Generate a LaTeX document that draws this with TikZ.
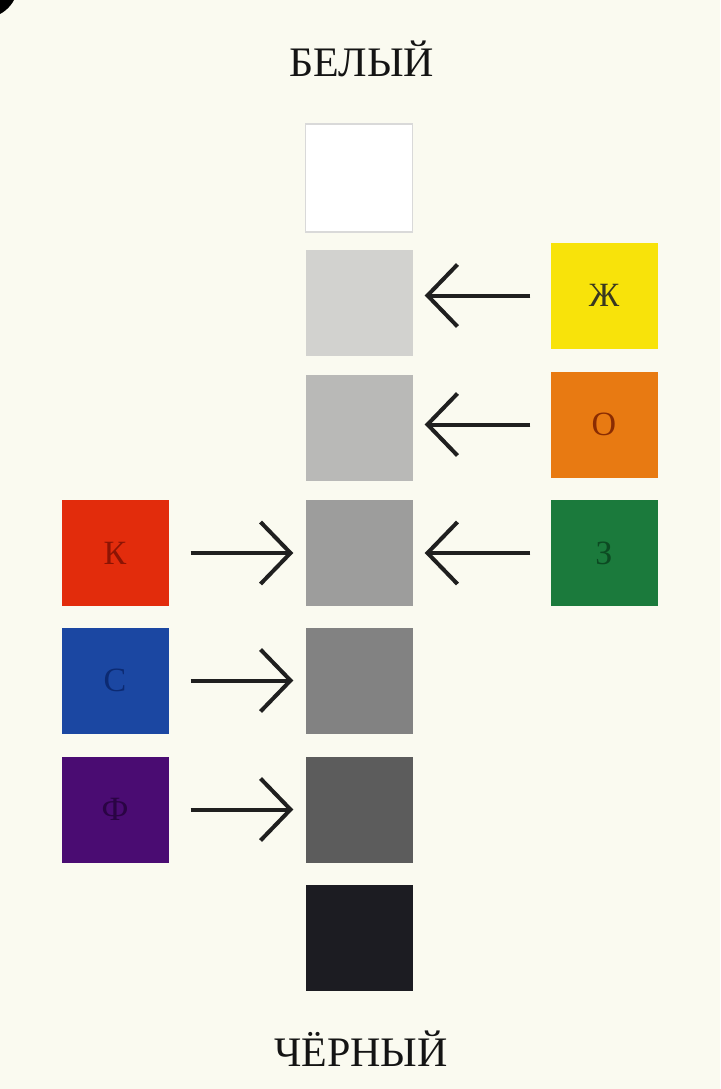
\documentclass[tikz,border=0pt]{standalone}
\usepackage{fontspec}
\setmainfont{Liberation Serif}
\usetikzlibrary{arrows.meta}
\definecolor{bg}{HTML}{FAFAF0}
\definecolor{gA}{HTML}{FFFFFF}
\definecolor{gB}{HTML}{D2D2CF}
\definecolor{gC}{HTML}{B9B9B7}
\definecolor{gD}{HTML}{9D9D9C}
\definecolor{gE}{HTML}{828282}
\definecolor{gF}{HTML}{5C5C5C}
\definecolor{gG}{HTML}{1C1C22}
\definecolor{cyel}{HTML}{F8E30A}
\definecolor{cora}{HTML}{E87A12}
\definecolor{cgrn}{HTML}{1B7A3C}
\definecolor{cred}{HTML}{E22C0C}
\definecolor{cblu}{HTML}{1B47A2}
\definecolor{cpur}{HTML}{4A0C72}
\definecolor{tyel}{HTML}{3A3820}
\definecolor{tora}{HTML}{8A2C02}
\definecolor{tgrn}{HTML}{0C4A22}
\definecolor{tred}{HTML}{8C1404}
\definecolor{tblu}{HTML}{0C2A72}
\definecolor{tpur}{HTML}{2A0444}
\tikzset{
  sq/.style={rectangle, minimum width=107pt, minimum height=106pt, inner sep=0pt, font=\fontsize{34}{34}\selectfont},
  title/.style={font=\fontsize{42}{42}\selectfont, text=black!92, anchor=base},
  arr/.style={line width=4pt, color=black!88, -{Straight Barb[length=30pt,width=62pt]}}
}
\begin{document}
\begin{tikzpicture}[x=1pt,y=-1pt]
\clip (0,0) rectangle (720,1089);
\fill[bg] (0,0) rectangle (720,1089);
\useasboundingbox (0,0) rectangle (720,1089);
\fill[black] (-16,-16) circle (34);
% titles
\node[title] (white) at (362,77) {БЕЛЫЙ};
\node[title] (black) at (361,1066) {ЧЁРНЫЙ};
% gray column
\node[sq, fill=gA, draw=black!15, line width=1.5pt, minimum height=108pt] (g1) at (359,178) {};
\node[sq, fill=gB] (g2) at (359,303) {};
\node[sq, fill=gC] (g3) at (359,427.5) {};
\node[sq, fill=gD] (g4) at (359,553) {};
\node[sq, fill=gE] (g5) at (359,680.5) {};
\node[sq, fill=gF] (g6) at (359,809.5) {};
\node[sq, fill=gG] (g7) at (359,937.5) {};
% right colours
\node[sq, fill=cyel, text=tyel] (zh) at (604,295.5) {Ж};
\node[sq, fill=cora, text=tora] (o) at (604,424.5) {О};
\node[sq, fill=cgrn, text=tgrn] (z) at (604,553) {З};
% left colours
\node[sq, fill=cred, text=tred] (k) at (115,553) {К};
\node[sq, fill=cblu, text=tblu] (s) at (115,680.5) {С};
\node[sq, fill=cpur, text=tpur] (f) at (115,809.5) {Ф};
% arrows
\draw[arr, shorten <=20pt, shorten >=12pt] (zh.west) -- (zh.west -| g2.east);
\draw[arr, shorten <=20pt, shorten >=12pt] (o.west) -- (o.west -| g3.east);
\draw[arr, shorten <=20pt, shorten >=12pt] (z.west) -- (z.west -| g4.east);
\draw[arr, shorten <=22pt, shorten >=12pt] (k.east) -- (k.east -| g4.west);
\draw[arr, shorten <=22pt, shorten >=12pt] (s.east) -- (s.east -| g5.west);
\draw[arr, shorten <=22pt, shorten >=12pt] (f.east) -- (f.east -| g6.west);
\end{tikzpicture}
\end{document}
